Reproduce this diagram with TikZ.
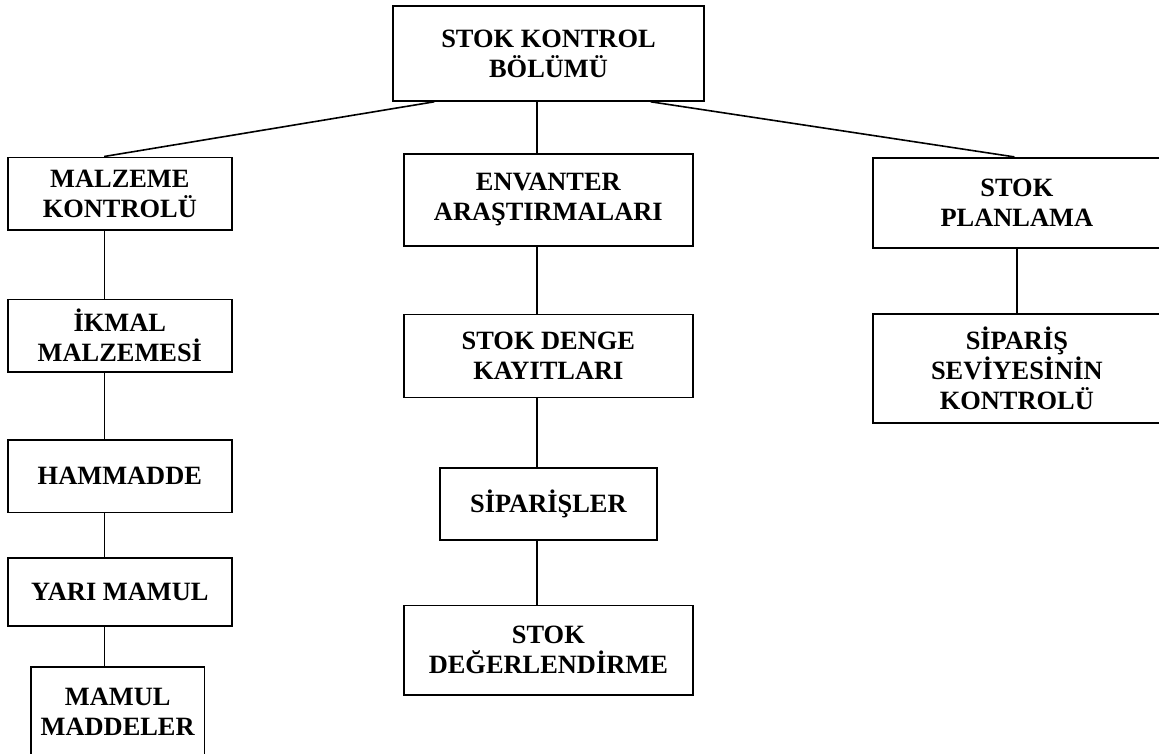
\documentclass[tikz,border=0pt]{standalone}
\usepackage{fontspec}
\setmainfont{Liberation Serif}
\usetikzlibrary{calc}
\begin{document}
\begin{tikzpicture}[x=1pt,y=-1pt,
  box/.style={draw=black, line width=1.6pt, rectangle, inner sep=0pt,
    align=center, font=\bfseries\fontsize{26.4}{30}\selectfont},
  link/.style={draw=black, line width=1.6pt}]
\useasboundingbox (0,0) rectangle (1159,753);
\clip (0,0) rectangle (1159,753);
\fill[white] (0,0) rectangle (1159,753);

% head of the department
\node[box, minimum width=311pt, minimum height=95pt] (top) at (548.5,53.5) {STOK KONTROL\\BÖLÜMÜ};

% left branch
\node[box, minimum width=223.7pt, minimum height=72.7pt] (malz) at (119.85,193.65) {MALZEME\\KONTROLÜ};
\node[box, minimum width=223.7pt, minimum height=72.4pt] (ikmal) at (119.85,335.5) {İKMAL\\MALZEMESİ};
\node[box, minimum width=223.7pt, minimum height=72.3pt] (hamm) at (119.85,476.15) {HAMMADDE};
\node[box, minimum width=223.7pt, minimum height=68pt] (yari) at (119.85,591.7) {YARI MAMUL};
\node[box, minimum width=173.3pt, minimum height=89.3pt] (mamul) at (117.65,711.35) {MAMUL\\MADDELER};

% middle branch
\node[box, minimum width=288.7pt, minimum height=92pt] (env) at (548.35,200) {ENVANTER\\ARAŞTIRMALARI};
\node[box, minimum width=288.7pt, minimum height=83pt] (denge) at (548.35,355.8) {STOK DENGE\\KAYITLARI};
\node[box, minimum width=216.7pt, minimum height=72.3pt] (sip) at (548.35,503.85) {SİPARİŞLER};
\node[box, minimum width=288.7pt, minimum height=89.7pt] (deger) at (548.35,650.15) {STOK\\DEĞERLENDİRME};

% right branch
\node[box, minimum width=288.3pt, minimum height=90pt] (plan) at (1016.85,202.7) {STOK\\PLANLAMA};
\node[box, minimum width=288.3pt, minimum height=108.7pt] (sipsev) at (1016.85,368.35) {SİPARİŞ\\SEVİYESİNİN\\KONTROLÜ};

% column positions of the connectors
\coordinate (lx) at (104.3,0);
\coordinate (mx) at (536.7,0);
\coordinate (rx) at (1016.7,0);

% connectors from the head
\draw[link] ($(top.south west)+(42,0)$) -- ($(malz.north west)+(97,0)$);
\draw[link] (top.south -| mx) -- (env.north -| mx);
\draw[link] ($(top.south east)+(-54,0)$) -- ($(plan.north west)+(142.5,0)$);

% left column
\draw[link] (malz.south -| lx) -- (ikmal.north -| lx);
\draw[link] (ikmal.south -| lx) -- (hamm.north -| lx);
\draw[link] (hamm.south -| lx) -- (yari.north -| lx);
\draw[link] (yari.south -| lx) -- (mamul.north -| lx);

% middle column
\draw[link] (env.south -| mx) -- (denge.north -| mx);
\draw[link] (denge.south -| mx) -- (sip.north -| mx);
\draw[link] (sip.south -| mx) -- (deger.north -| mx);

% right column
\draw[link] (plan.south -| rx) -- (sipsev.north -| rx);
\end{tikzpicture}
\end{document}
